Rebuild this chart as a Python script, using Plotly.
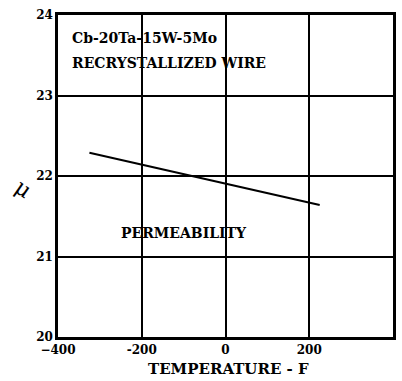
import plotly.graph_objects as go

# Data
temperature_f = [-325, 225]
permeability = [22.29, 21.64]

x_ticks = [-400, -200, 0, 200, 400]
x_tick_labels = ["\u2212400", "-200", "0", "200", "400"]
y_ticks = [20, 21, 22, 23, 24]
y_tick_labels = ["20", "21", "22", "23", "24"]

serif = "DejaVu Serif"

fig = go.Figure()
fig.add_trace(go.Scatter(
    x=temperature_f, y=permeability, mode="lines",
    line=dict(color="black", width=2), showlegend=False, hoverinfo="skip",
))

fig.update_layout(
    width=402, height=381,
    margin=dict(l=58, r=9, t=15, b=44, autoexpand=False),
    paper_bgcolor="white", plot_bgcolor="white",
    font=dict(family=serif, color="black", size=12),
    xaxis=dict(
        range=[-400, 400], tickvals=x_ticks, ticktext=x_tick_labels,
        showgrid=True, gridcolor="black", gridwidth=1.5,
        showline=True, linecolor="black", linewidth=2.5, mirror=True,
        zeroline=False, ticks="", ticklen=0, automargin=False,
        tickfont=dict(family=serif, size=12, color="black", weight="bold"),
    ),
    yaxis=dict(
        range=[20, 24], tickvals=y_ticks, ticktext=y_tick_labels,
        showgrid=True, gridcolor="black", gridwidth=1.5,
        showline=True, linecolor="black", linewidth=2.5, mirror=True,
        zeroline=False, ticks="", ticklen=0, automargin=False,
        tickfont=dict(family=serif, size=12, color="black", weight="bold"),
    ),
    annotations=[
        dict(text="Cb-20Ta-15W-5Mo", x=0.035, y=0.93, xref="paper", yref="paper",
             xanchor="left", yanchor="middle", showarrow=False,
             font=dict(family=serif, size=14, weight="bold")),
        dict(text="RECRYSTALLIZED WIRE", x=0.035, y=0.85, xref="paper", yref="paper",
             xanchor="left", yanchor="middle", showarrow=False,
             font=dict(family=serif, size=14, weight="bold")),
        dict(text="PERMEABILITY", x=-100, y=21.29, xref="x", yref="y",
             xanchor="center", yanchor="middle", showarrow=False,
             font=dict(family=serif, size=14, weight="bold")),
        dict(text="TEMPERATURE - F", x=0.51, y=-0.1, xref="paper", yref="paper",
             xanchor="center", yanchor="middle", showarrow=False,
             font=dict(family=serif, size=15, weight="bold")),
        dict(text="\u03bc", x=-0.105, y=0.46, xref="paper", yref="paper",
             xanchor="center", yanchor="middle", showarrow=False, textangle=35,
             font=dict(family=serif, size=22)),
    ],
)

fig.write_html("out.html")
